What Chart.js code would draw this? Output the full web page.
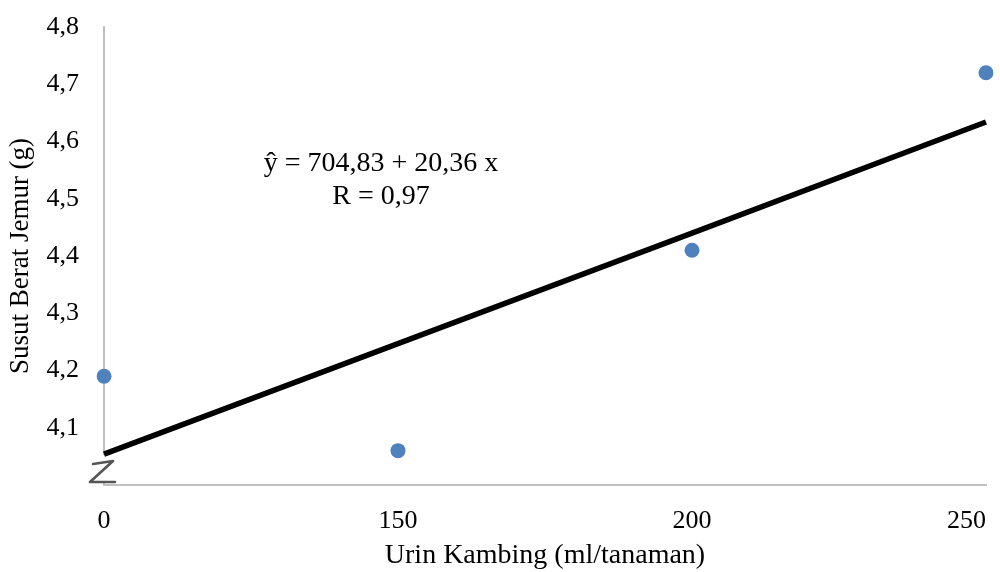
<!DOCTYPE html>
<html>
<head>
<meta charset="utf-8">
<script src="https://cdn.jsdelivr.net/npm/chart.js@4.4.0/dist/chart.umd.min.js"></script>
<style>
html,body{margin:0;padding:0;background:#fff;}
#wrap{width:1000px;height:572px;}
</style>
</head>
<body>
<div id="wrap"><canvas id="c" width="1000" height="572"></canvas></div>
<script>
// ---- data ----
const categories = ['0', '150', '200', '250'];
const observed = [4.19, 4.06, 4.41, 4.72];
const trend = [4.054, 4.247, 4.440, 4.634];
const yTickValues = [4.0, 4.1, 4.2, 4.3, 4.4, 4.5, 4.6, 4.7, 4.8];
const yTickLabels = ['', '4,1', '4,2', '4,3', '4,4', '4,5', '4,6', '4,7', '4,8'];
const equationLines = ['ŷ = 704,83 + 20,36 x', 'R = 0,97'];
const xTitle = 'Urin Kambing (ml/tanaman)';
const yTitle = 'Susut Berat Jemur (g)';

const FONT = "'Liberation Serif', 'Times New Roman', serif";

const breakPlugin = {
  id: 'axisBreak',
  beforeDatasetsDraw(chart) {
    const ctx = chart.ctx;
    const a = chart.chartArea;
    ctx.save();
    ctx.fillStyle = '#ffffff';
    ctx.fillRect(a.left - 3, a.bottom - 30, 6, 28);
    ctx.strokeStyle = '#555555';
    ctx.lineWidth = 2.6;
    ctx.lineJoin = 'round';
    ctx.lineCap = 'round';
    ctx.beginPath();
    ctx.moveTo(a.left - 11, a.bottom - 21);
    ctx.lineTo(a.left + 9, a.bottom - 24);
    ctx.lineTo(a.left - 14, a.bottom - 3);
    ctx.lineTo(a.left + 11, a.bottom - 3);
    ctx.stroke();
    ctx.restore();
  },
  afterDraw(chart) {
    const ctx = chart.ctx;
    const a = chart.chartArea;
    ctx.save();
    ctx.fillStyle = '#000';
    ctx.font = '28px ' + FONT;
    ctx.textAlign = 'center';
    ctx.textBaseline = 'middle';
    const cx = a.left + (a.right - a.left) * 0.314;
    const cy = a.top + (a.bottom - a.top) * 0.298;
    ctx.fillText(equationLines[0], cx, cy);
    ctx.fillText(equationLines[1], cx, cy + 33);
    ctx.restore();
  }
};

new Chart(document.getElementById('c'), {
  type: 'line',
  data: {
    labels: categories,
    datasets: [
      {
        label: 'Observed',
        data: observed,
        showLine: false,
        pointRadius: 7.5,
        pointHoverRadius: 7.5,
        pointBackgroundColor: '#4f81bd',
        pointBorderColor: '#4f81bd',
        pointBorderWidth: 0,
        order: 0
      },
      {
        label: 'Trend',
        data: trend,
        borderColor: '#000000',
        borderWidth: 5.5,
        pointRadius: 0,
        fill: false,
        tension: 0,
        borderCapStyle: 'butt',
        order: 1
      }
    ]
  },
  options: {
    responsive: false,
    animation: false,
    events: [],
    layout: { padding: { top: 1, right: 0, bottom: 0, left: 0 } },
    plugins: { legend: { display: false }, tooltip: { enabled: false } },
    scales: {
      x: {
        type: 'category',
        offset: false,
        grid: { display: false, drawTicks: false },
        border: { display: true, color: '#c0c0c0', width: 2 },
        afterFit(scale) {
          scale.height = 87;
          scale.paddingRight = 14;
          scale.paddingLeft = 0;
        },
        ticks: {
          color: '#000',
          font: { family: FONT, size: 26 },
          padding: 21,
          maxRotation: 0,
          autoSkip: false,
          callback(value, index, ticks) {
            const lbl = categories[index];
            // last label sits right-aligned under the axis end, as in the source
            return index === ticks.length - 1 ? lbl + '\u00a0'.repeat(6) : lbl;
          }
        },
        title: {
          display: true,
          text: xTitle,
          color: '#000',
          font: { family: FONT, size: 28 },
          padding: { top: 0, bottom: 0 }
        }
      },
      y: {
        min: 4.0,
        max: 4.8,
        grid: { display: false, drawTicks: false },
        border: { display: true, color: '#c0c0c0', width: 2 },
        afterBuildTicks(scale) {
          scale.ticks = yTickValues.map(v => ({ value: v }));
        },
        afterFit(scale) {
          scale.width = 104;
          scale.paddingTop = 27;
          scale.paddingBottom = 0;
        },
        ticks: {
          color: '#000',
          font: { family: FONT, size: 26 },
          padding: 25,
          callback(value) {
            const i = yTickValues.findIndex(v => Math.abs(v - value) < 1e-6);
            return i >= 0 ? yTickLabels[i] : '';
          }
        },
        title: {
          display: true,
          text: yTitle,
          color: '#000',
          font: { family: FONT, size: 27 },
          padding: { top: 5, bottom: 0 }
        }
      }
    }
  },
  plugins: [breakPlugin]
});
</script>
</body>
</html>
